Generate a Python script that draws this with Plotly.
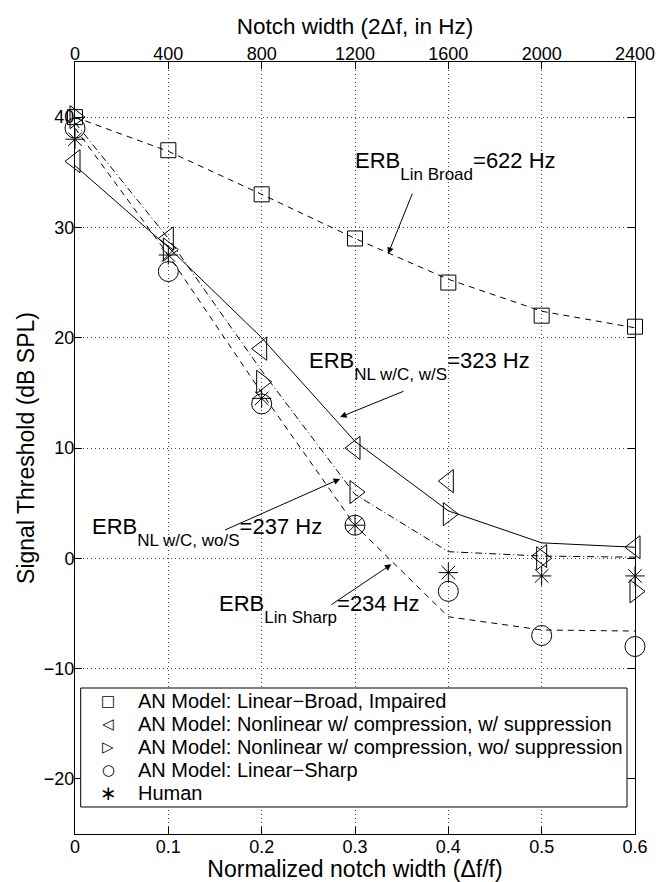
import plotly.graph_objects as go

# ---------------- data ----------------
x_norm = [0, 0.1, 0.2, 0.3, 0.4, 0.5, 0.6]
x_ticklabels = ["0", "0.1", "0.2", "0.3", "0.4", "0.5", "0.6"]
hz_ticks = [0, 400, 800, 1200, 1600, 2000, 2400]
y_ticks = [-20, -10, 0, 10, 20, 30, 40]

lin_broad = [40, 37, 33, 29, 25, 22, 21]
nl_ws = [36, 29, 19, 10, 7, 0.2, 1]
nl_wos = [40, 28, 16, 6, 4, 0, -3]
lin_sharp = [39, 26, 14, 3, -3, -7, -8]
human = [38, 27.5, 14.5, 3, -1.3, -1.6, -1.6]

fit_lin_broad = [40, 36.9, 33.0, 29.0, 25.3, 22.4, 20.9]
fit_nl_ws = [35.6, 28.2, 20.0, 10.6, 4.3, 1.4, 1.0]
fit_nl_wos = [39.5, 29.0, 17.0, 5.8, 0.6, 0.2, 0.1]
fit_lin_sharp = [39.0, 27.5, 15.0, 3.0, -5.3, -6.5, -6.6]

legend_labels = [
    "AN Model: Linear\u2212Broad, Impaired",
    "AN Model: Nonlinear w/ compression, w/ suppression",
    "AN Model: Nonlinear w/ compression, wo/ suppression",
    "AN Model: Linear\u2212Sharp",
    "Human",
]
legend_glyphs = ["\u25a1", "\u25c1", "\u25b7", "\u25cb", "\u2217"]

erb_main = ["ERB", "ERB", "ERB", "ERB"]
erb_sub = ["Lin Broad", "NL w/C, w/S", "NL w/C, wo/S", "Lin Sharp"]
erb_value = ["=622 Hz", "=323 Hz", "=237 Hz", "=234 Hz"]
erb_text_x = [0.298, 0.2486, 0.0161, 0.1518]
erb_text_y = [35.6, 17.4, 2.35, -4.6]
arrow_tail = [(0.3621, 33.2), (0.3536, 15.2), (0.159, 2.5), (0.273, -4.3)]
arrow_head = [(0.3354, 27.6), (0.284, 12.8), (0.284, 7.2), (0.339, -0.55)]

FONT = "Liberation Sans, Arial, Helvetica, sans-serif"
BLACK = "black"

fig = go.Figure()

# fitted curves
fit_series = [
    (fit_lin_broad, "6px,5px"),
    (fit_nl_ws, "solid"),
    (fit_nl_wos, "7px,3px,1px,3px"),
    (fit_lin_sharp, "6px,5px"),
]
for ys, dash in fit_series:
    fig.add_trace(go.Scatter(
        x=x_norm, y=ys, mode="lines",
        line=dict(color=BLACK, width=1, dash=dash),
        showlegend=False, hoverinfo="skip"))

# data markers
marker_series = [
    (lin_broad, "square-open", 15),
    (nl_ws, "triangle-left-open", 20),
    (nl_wos, "triangle-right-open", 20),
    (lin_sharp, "circle-open", 20),
    (human, "asterisk-open", 16),
]
for (ys, sym, sz), name in zip(marker_series, legend_labels):
    fig.add_trace(go.Scatter(
        x=x_norm, y=ys, mode="markers", name=name, cliponaxis=False,
        marker=dict(symbol=sym, size=sz, color=BLACK,
                    line=dict(color=BLACK, width=1)),
        showlegend=False))

# invisible trace for the top axis
fig.add_trace(go.Scatter(x=hz_ticks, y=[None] * len(hz_ticks), xaxis="x2",
                         mode="markers", showlegend=False, hoverinfo="skip"))

# ERB annotations
for m, s, v, tx, ty in zip(erb_main, erb_sub, erb_value, erb_text_x, erb_text_y):
    fig.add_annotation(
        x=tx, y=ty, xref="x", yref="y", xanchor="left", yanchor="middle",
        text=f"{m}<sub><span style='font-size:17px;baseline-shift:-7px'>{s}</span></sub>{v}",
        showarrow=False, font=dict(family=FONT, size=22, color=BLACK))
for (tx, ty), (hx, hy) in zip(arrow_tail, arrow_head):
    fig.add_annotation(
        x=hx, y=hy, ax=tx, ay=ty, xref="x", yref="y", axref="x", ayref="y",
        text="", showarrow=True, arrowhead=2, arrowsize=1.3, arrowwidth=1,
        arrowcolor=BLACK, standoff=0, startstandoff=0)

# ---- manual legend (MATLAB style box) ----
L, R, T, B = 75, 35, 62, 48
W, H = 670, 882
pw, ph = W - L - R, H - T - B
def px_x(p):
    return (p - L) / pw
def px_y(p):
    return (H - B - p) / ph

fig.add_shape(type="rect", xref="paper", yref="paper",
              x0=px_x(80.7), x1=px_x(627), y0=px_y(807), y1=px_y(688),
              line=dict(color=BLACK, width=1), fillcolor="white", layer="above")
for i, (g, lab) in enumerate(zip(legend_glyphs, legend_labels)):
    yy = px_y(701 + 23 * i)
    fig.add_annotation(x=px_x(108), y=yy, xref="paper", yref="paper",
                       text=g, showarrow=False, xanchor="center", yanchor="middle",
                       font=dict(family="DejaVu Sans", size=15 if i != 4 else 20, color=BLACK))
    fig.add_annotation(x=px_x(136), y=yy, xref="paper", yref="paper",
                       text=lab, showarrow=False, xanchor="left", yanchor="middle",
                       font=dict(family=FONT, size=20, color=BLACK))

axis_common = dict(showline=True, linecolor=BLACK, linewidth=1,
                   ticks="inside", ticklen=7, tickcolor=BLACK,
                   zeroline=False, automargin=False,
                   tickfont=dict(family=FONT, size=18, color=BLACK))
grid_common = dict(showgrid=True, gridcolor="#444444", griddash="1px,3px", gridwidth=1)

fig.update_layout(
    width=W, height=H,
    margin=dict(l=L, r=R, t=T, b=B),
    paper_bgcolor="white", plot_bgcolor="white",
    showlegend=False,
    xaxis=dict(range=[0, 0.6], tickvals=x_norm, ticktext=x_ticklabels,
               mirror="ticks", ticklabelstandoff=-4,
               title=dict(text="Normalized notch width (\u0394f/f)", standoff=1,
                          font=dict(family=FONT, size=23, color=BLACK)),
               **grid_common, **axis_common),
    xaxis2=dict(range=[0, 2400], tickvals=hz_ticks, overlaying="x", side="top",
                showgrid=False, anchor="y", ticklabelstandoff=-6,
                title=dict(text="Notch width (2\u0394f, in Hz)", standoff=2,
                           font=dict(family=FONT, size=22.5, color=BLACK)),
                **axis_common),
    yaxis=dict(range=[-25, 45], tickvals=y_ticks, mirror="ticks",
               ticklabelstandoff=-4,
               title=dict(text="Signal Threshold (dB SPL)", standoff=2,
                          font=dict(family=FONT, size=23, color=BLACK)),
               **grid_common, **axis_common),
)

fig.write_html(
    "out.html",
    config={"displayModeBar": False},
    post_script="document.body.style.margin='0px';document.body.style.overflow='hidden';",
)
